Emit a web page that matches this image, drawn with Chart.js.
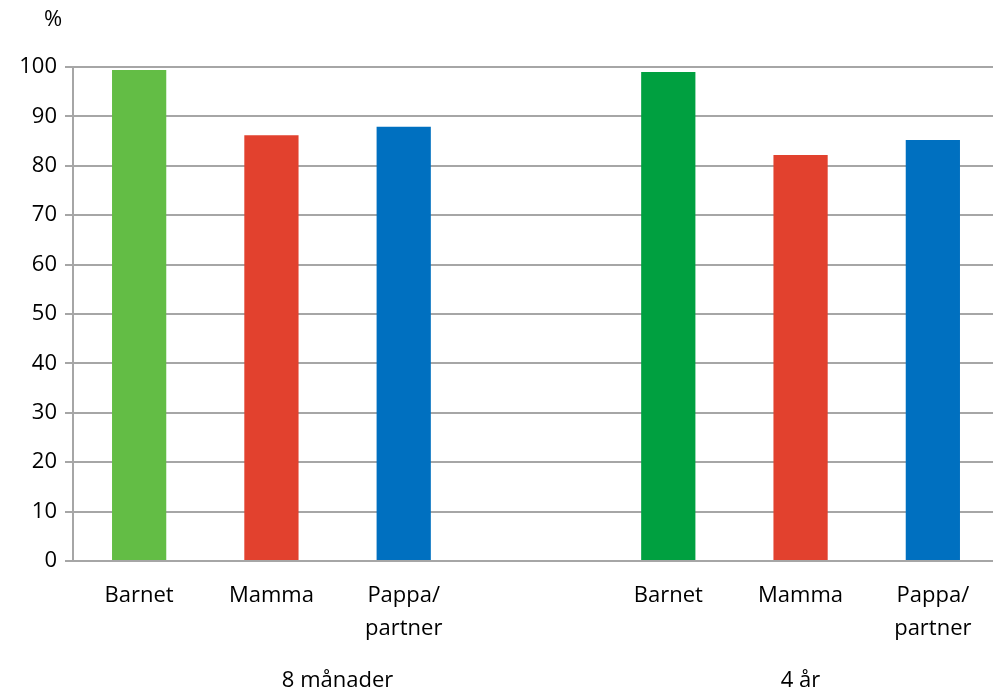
<!DOCTYPE html>
<html>
<head>
<meta charset="utf-8">
<script src="https://cdn.jsdelivr.net/npm/chart.js@4/dist/chart.umd.min.js"></script>
<style>
  html, body { margin: 0; padding: 0; background: #fff; overflow: hidden; }
  #wrap { width: 999px; height: 693px; }
</style>
</head>
<body>
<div id="wrap"><canvas id="graficoAndel"></canvas></div>
<script>
// andel i procent, per grupp
var kategorier = ['Barnet', 'Mamma', ['Pappa/', 'partner']];
var grupper = ['8 månader', '4 år'];
var varden8man = [99.4, 86.2, 87.9];
var varden4ar = [99.0, 82.2, 85.2];
var farger8man = ['#63bd45', '#e2412e', '#0070c0'];
var farger4ar = ['#00a040', '#e2412e', '#0070c0'];
var yTicks = [0, 10, 20, 30, 40, 50, 60, 70, 80, 90, 100];

var fonte = "'Open Sans', 'Noto Sans', sans-serif";
var tamanho = 22;
var grade = '#a6a6a6';

// en tom kolumn mellan grupperna
var labels = kategorier.concat(['']).concat(kategorier);
var valores = varden8man.concat([null]).concat(varden4ar);
var cores = farger8man.concat(['#fff']).concat(farger4ar);

// gruppetiketter under kategorierna + procenttecken ovanför y-axeln
var textoExtra = {
    id: 'textoExtra',
    afterDraw: function (chart) {
        var ctx = chart.ctx;
        var x = chart.scales.x;
        var y = chart.scales.y;
        ctx.save();
        ctx.fillStyle = '#000';
        ctx.font = tamanho + 'px ' + fonte;
        ctx.textAlign = 'center';
        ctx.textBaseline = 'middle';
        var meio1 = (x.getPixelForValue(0) + x.getPixelForValue(3)) / 2;
        var meio2 = x.getPixelForValue(5);
        ctx.fillText(grupper[0], meio1, 681);
        ctx.fillText(grupper[1], meio2, 681);
        ctx.fillText('%', 53, y.getPixelForValue(100) - 47);
        ctx.restore();
    }
};

var ctx = document.getElementById('graficoAndel').getContext('2d');

var grafico = new Chart(ctx, {
    type: 'bar',
    data: {
        labels: labels,
        datasets: [{
            label: '%',
            data: valores,
            backgroundColor: cores,
            borderWidth: 0,
            categoryPercentage: 1,
            barPercentage: 0.41
        }]
    },
    options: {
        responsive: true,
        maintainAspectRatio: false,
        animation: false,
        layout: { padding: { top: 67, right: 0, left: 0, bottom: 0 } },
        plugins: {
            legend: { display: false },
            tooltip: { enabled: false }
        },
        scales: {
            x: {
                grid: { display: false, drawTicks: false },
                border: { display: false },
                ticks: {
                    color: '#000',
                    font: { family: fonte, size: tamanho, lineHeight: 1.5 },
                    padding: 18,
                    maxRotation: 0,
                    autoSkip: false
                },
                afterFit: function (scale) { scale.height = 132; }
            },
            y: {
                min: 0,
                max: 100,
                afterBuildTicks: function (scale) {
                    scale.ticks = yTicks.map(function (v) { return { value: v }; });
                },
                grid: { color: grade, lineWidth: 2, tickLength: 8 },
                border: { display: true, color: grade, width: 2 },
                ticks: {
                    color: '#000',
                    font: { family: fonte, size: tamanho },
                    padding: 8
                },
                afterFit: function (scale) { scale.width = 73; }
            }
        }
    },
    plugins: [textoExtra]
});
</script>
</body>
</html>
